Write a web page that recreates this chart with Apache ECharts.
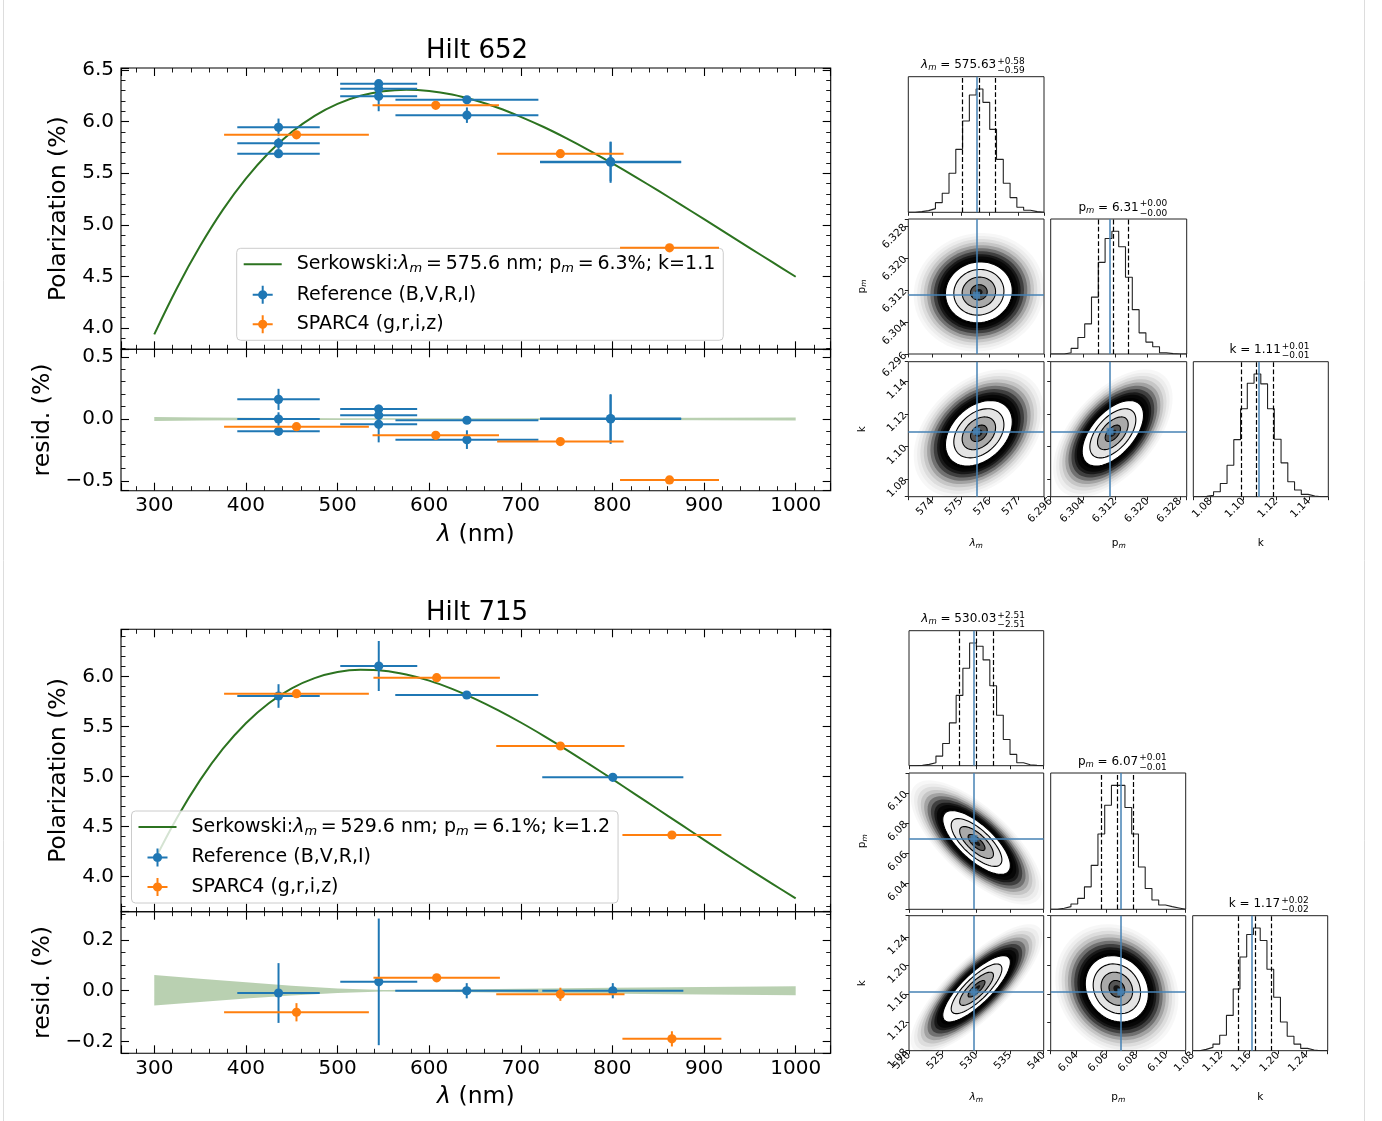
<!DOCTYPE html>
<html><head><meta charset="utf-8">
<script src="https://cdn.jsdelivr.net/npm/echarts@6/dist/echarts.min.js"></script>
<style>html,body{margin:0;padding:0;background:#fff;}#c{width:1382px;height:1121px;}</style>
</head><body><div id="c"></div>
<script>
const FONT = 'DejaVu Sans';
const BLUE = '#1f77b4', ORANGE = '#ff7f0e', GREEN = '#2c7320', TRUTH = '#4682b4';

// ---------- Serkowski model curves ----------
const lamGrid = [300,325,350,375,400,425,450,475,500,525,550,575,600,625,650,675,700,725,750,775,800,825,850,875,900,925,950,975,1000];
const serk652 = [3.939,4.391,4.794,5.147,5.447,5.698,5.900,6.057,6.173,6.251,6.295,6.310,6.298,6.263,6.207,6.135,6.047,5.948,5.838,5.720,5.595,5.465,5.331,5.194,5.055,4.915,4.775,4.636,4.497];
const serk715 = [4.159,4.592,4.966,5.280,5.535,5.735,5.884,5.986,6.047,6.069,6.060,6.022,5.961,5.878,5.779,5.666,5.542,5.409,5.269,5.123,4.975,4.824,4.672,4.520,4.369,4.219,4.071,3.926,3.784];

// ---------- Hilt 652 ----------
const ref652Lam    = [435.6,435.6,435.6,544.9,544.9,544.9,641.2,641.2,798.0,798.0];
const ref652LamErr = [45,45,45,42,42,42,78,78,77,77];
const ref652P      = [5.945,5.790,5.690,6.368,6.318,6.246,6.212,6.063,5.607,5.612];
const ref652PErr   = [0.085,0.054,0.032,0.035,0.030,0.145,0.020,0.075,0.200,0.190];
const ref652Res    = [0.158,0.000,-0.099,0.080,0.030,-0.043,-0.010,-0.166,0.000,0.004];
const sp652Lam     = [455.2,607.2,743.2,862.3];
const sp652LamErr  = [79,69,69,54];
const sp652P       = [5.872,6.158,5.690,4.777];
const sp652PErr    = [0.025,0.015,0.015,0.015];
const sp652Res     = [-0.062,-0.131,-0.182,-0.490];

// ---------- Hilt 715 ----------
const ref715Lam    = [435.6,545.0,641.0,800.4];
const ref715LamErr = [45,42,78,77];
const ref715P      = [5.807,6.107,5.817,4.994];
const ref715PErr   = [0.118,0.250,0.030,0.030];
const ref715Res    = [-0.009,0.035,0.000,0.000];
const sp715Lam     = [455.2,608.2,743.2,864.9];
const sp715LamErr  = [79,69,70,54];
const sp715P       = [5.830,5.990,5.307,4.417];
const sp715PErr    = [0.036,0.012,0.026,0.030];
const sp715Res     = [-0.085,0.051,-0.014,-0.190];

// ---------- residual model bands ----------
const bandLam  = [300,350,400,450,500,550,600,700,800,900,1000];
const band652Hi = [0.017,0.013,0.010,0.008,0.007,0.006,0.006,0.007,0.009,0.010,0.012];
const band652Lo = [-0.017,-0.013,-0.010,-0.008,-0.007,-0.006,-0.006,-0.007,-0.009,-0.010,-0.012];
const band715Hi = [0.062,0.047,0.033,0.020,0.009,0.003,0.004,0.008,0.012,0.015,0.018];
const band715Lo = [-0.058,-0.044,-0.031,-0.019,-0.009,-0.003,-0.004,-0.008,-0.012,-0.015,-0.018];

// ---------- corner plots: Hilt 652 ----------
const hist652Lam = [0,2,5,11,29,57,117,189,274,352,370,330,249,159,87,44,15,6,2,0];
const hist652P   = [0,0,4,17,50,91,172,277,349,371,324,232,134,64,36,22,4,1,0,0];
const hist652K   = [0,1,4,15,40,95,172,265,342,370,340,265,173,102,45,20,7,2,0,0];
const range652Lam = [573.16,577.91];
const range652P   = [6.296,6.3297];
const range652K   = [1.0694,1.1518];
const q652Lam = [575.04,575.63,576.21];
const q652P   = [6.3077,6.3114,6.3152];
const q652K   = [1.0985,1.1081,1.1183];
const truth652 = [575.55,6.3107,1.1093];
const cloud652LamP = [575.63,6.3114,0.585,0.0038,0.05];
const cloud652LamK = [575.63,1.1081,0.585,0.0100,0.35];
const cloud652PK   = [6.3114,1.1081,0.0038,0.0100,0.55];

// ---------- corner plots: Hilt 715 ----------
const hist715Lam = [0,1,4,9,29,67,129,212,294,370,360,319,241,152,79,34,9,3,1,0];
const hist715P   = [0,3,8,16,33,68,133,228,315,375,375,308,228,128,63,28,13,8,4,0];
const hist715K   = [0,4,10,20,47,107,187,284,352,372,334,247,162,87,44,20,7,2,0,0];
const range715Lam = [520,540];
const range715P   = [6.0226,6.1132];
const range715K   = [1.08,1.2697];
const q715Lam = [527.52,530.03,532.54];
const q715P   = [6.0568,6.0670,6.0780];
const q715K   = [1.1436,1.1672,1.1902];
const truth715 = [529.65,6.0697,1.1625];
const cloud715LamP = [530.03,6.067,2.51,0.0106,-0.72];
const cloud715LamK = [530.03,1.167,2.51,0.0233,0.80];
const cloud715PK   = [6.067,1.167,0.0106,0.0233,-0.15];

// ================= build option =================
const option = {animation:false, backgroundColor:'#fff', textStyle:{fontFamily:FONT},
  grid:[], xAxis:[], yAxis:[], series:[], title:[], legend:[], graphic:[]};

function fmtStep(step, dec){
  return function(v){
    const q = v/step;
    if (Math.abs(q-Math.round(q)) > 1e-6) return '';
    let s = (Math.round(q)*step).toFixed(dec);
    if (Number(s) === 0) s = (0).toFixed(dec);
    return s.replace('-', '\u2212');
  };
}
const noLine = {show:false, onZero:false};

function mainPanel(rect, xr, yr, ySplit, yMinor, yStep, showX, yName, yNameGap){
  const gi = option.grid.length;
  option.grid.push({left:rect[0], top:rect[1], width:rect[2], height:rect[3], show:true,
    borderColor:'#000', borderWidth:1.1, backgroundColor:'rgba(0,0,0,0)'});
  const tick = {show:true, inside:true, length:8, lineStyle:{color:'#000', width:1.1}};
  const xMinor = {show:true, splitNumber:5, length:4.5, lineStyle:{color:'#000', width:0.9}};
  const yMinorT = {show:true, splitNumber:yMinor, length:4.5, lineStyle:{color:'#000', width:0.9}};
  const lab = {color:'#000', fontFamily:FONT, fontSize:20, showMinLabel:true, showMaxLabel:true, hideOverlap:false};
  const xi = option.xAxis.length;
  option.xAxis.push({gridIndex:gi, type:'value', position:'bottom', min:xr[0], max:xr[1], splitNumber:7,
    axisLine:noLine, axisTick:tick, minorTick:xMinor, splitLine:{show:false}, minorSplitLine:{show:false},
    axisLabel:Object.assign({show:showX, margin:5, formatter:fmtStep(100,0)}, lab),
    name: showX ? '{it|λ} (nm)' : '', nameLocation:'middle', nameGap:32,
    nameTextStyle:{fontFamily:FONT, fontSize:23.5, color:'#000',
      rich:{it:{fontFamily:FONT, fontSize:23.5, fontStyle:'italic', color:'#000'}}}});
  option.xAxis.push({gridIndex:gi, type:'value', position:'top', min:xr[0], max:xr[1], splitNumber:7,
    axisLine:noLine, axisTick:tick, minorTick:xMinor, splitLine:{show:false}, axisLabel:{show:false}});
  const yi = option.yAxis.length;
  option.yAxis.push({gridIndex:gi, type:'value', position:'left', min:yr[0], max:yr[1], splitNumber:ySplit,
    axisLine:noLine, axisTick:tick, minorTick:yMinorT, splitLine:{show:false},
    axisLabel:Object.assign({margin:7, formatter:fmtStep(yStep,1)}, lab),
    name:yName, nameLocation:'middle', nameGap:yNameGap,
    nameTextStyle:{fontFamily:FONT, fontSize:23.5, color:'#000'}});
  option.yAxis.push({gridIndex:gi, type:'value', position:'right', min:yr[0], max:yr[1], splitNumber:ySplit,
    axisLine:noLine, axisTick:tick, minorTick:yMinorT, splitLine:{show:false}, axisLabel:{show:false}});
  return {xi:xi, yi:yi};
}

function errRender(params, api){
  const x = api.value(0), y = api.value(1), ex = api.value(2), ey = api.value(3);
  const c = api.coord([x,y]);
  const l = api.coord([x-ex,y]), r = api.coord([x+ex,y]);
  const t = api.coord([x,y+ey]), b = api.coord([x,y-ey]);
  const color = api.visual('color');
  return {type:'group', children:[
    {type:'line', shape:{x1:l[0],y1:l[1],x2:r[0],y2:r[1]}, style:{stroke:color, lineWidth:2}},
    {type:'line', shape:{x1:t[0],y1:t[1],x2:b[0],y2:b[1]}, style:{stroke:color, lineWidth:2}},
    {type:'circle', shape:{cx:c[0],cy:c[1],r:4.6}, style:{fill:color}}
  ]};
}
function errSeries(name, ax, lam, lamErr, val, valErr, color){
  return {type:'custom', name:name, xAxisIndex:ax.xi, yAxisIndex:ax.yi, color:color, z:4,
    itemStyle:{color:color}, renderItem:errRender, dimensions:['x','y','ex','ey'], encode:{x:0, y:1},
    data: lam.map((l,i)=>[l, val[i], lamErr[i], valErr[i]])};
}
function bandSeries(ax, lam, hi, lo){
  return {type:'custom', name:'band', xAxisIndex:ax.xi, yAxisIndex:ax.yi, z:1, silent:true,
    data: lam.map((l,i)=>[l, hi[i], lo[i]]), encode:{x:0, y:1},
    renderItem: function(params, api){
      if (params.dataIndex !== 0) return null;
      const pts = [];
      for (let i=0;i<lam.length;i++) pts.push(api.coord([lam[i], hi[i]]));
      for (let i=lam.length-1;i>=0;i--) pts.push(api.coord([lam[i], lo[i]]));
      return {type:'polygon', shape:{points:pts}, style:{fill:'rgba(60,125,40,0.36)'}};
    }};
}

function addStar(cfg){
  const m = mainPanel(cfg.mainRect, [263.7,1038.2], cfg.mainY, 5, 5, 0.5, false, 'Polarization (%)', 40);
  const r = mainPanel(cfg.resRect, [263.7,1038.2], cfg.resY, cfg.resSplit, cfg.resMinor, cfg.resStep, true, 'resid. (%)', 58);
  option.series.push({type:'line', name:cfg.serkName, xAxisIndex:m.xi, yAxisIndex:m.yi, color:GREEN,
    data: lamGrid.map((l,i)=>[l, cfg.serk[i]]), symbol:'none', showSymbol:false, smooth:0.4,
    lineStyle:{color:GREEN, width:2}, z:2});
  option.series.push(errSeries('Reference (B,V,R,I)', m, cfg.refLam, cfg.refLamErr, cfg.refP, cfg.refPErr, BLUE));
  option.series.push(errSeries('SPARC4 (g,r,i,z)', m, cfg.spLam, cfg.spLamErr, cfg.spP, cfg.spPErr, ORANGE));
  option.series.push(bandSeries(r, bandLam, cfg.bandHi, cfg.bandLo));
  option.series.push(errSeries('Reference (B,V,R,I)', r, cfg.refLam, cfg.refLamErr, cfg.refRes, cfg.refPErr, BLUE));
  option.series.push(errSeries('SPARC4 (g,r,i,z)', r, cfg.spLam, cfg.spLamErr, cfg.spRes, cfg.spPErr, ORANGE));
  option.title.push({text:cfg.title, left:472, top:cfg.titleTop, textAlign:'center',
    textStyle:{fontFamily:FONT, fontSize:26, fontWeight:'normal', color:'#000'}});
  const spk = 'M0,0h0.01v0.01h-0.01z M47.99,19.99h0.01v0.01h-0.01z ';
  const lineIcon = 'path://' + spk + 'M0,9H38V11H0z';
  const errIcon = 'path://' + spk + 'M9,9H29V11H9z M18,1H20V19H18z M19,5.4A4.6,4.6 0 1,1 19,14.6A4.6,4.6 0 1,1 19,5.4z';
  const labels = {};
  labels[cfg.serkName] = cfg.serkLabel;
  option.legend.push({orient:'vertical', left:cfg.legendPos[0], top:cfg.legendPos[1], padding:[6,8,6,7],
    itemWidth:48, itemHeight:20, itemGap:9.5, selectedMode:false,
    backgroundColor:'rgba(255,255,255,0.8)', borderColor:'#cccccc', borderWidth:1, borderRadius:4,
    data:[{name:cfg.serkName, icon:lineIcon}, {name:'Reference (B,V,R,I)', icon:errIcon}, {name:'SPARC4 (g,r,i,z)', icon:errIcon}],
    formatter: n => labels[n] || ('{t|' + n + '}'),
    textStyle:{fontFamily:FONT, fontSize:19, color:'#000', rich:{
      t:{fontFamily:FONT, fontSize:19, color:'#000', lineHeight:22, verticalAlign:'middle'},
      it:{fontFamily:FONT, fontSize:19, fontStyle:'italic', color:'#000', lineHeight:22, verticalAlign:'middle'},
      s:{fontFamily:FONT, fontSize:13, fontStyle:'italic', color:'#000', lineHeight:13, verticalAlign:'bottom'}}}});
}

addStar({title:'Hilt 652', titleTop:33, mainRect:[121,68,709.7,281.3], resRect:[121,349.3,709.7,141.4],
  mainY:[3.794,6.52], resY:[-0.577,0.561], resSplit:2, resMinor:5, resStep:0.5,
  serk:serk652, serkName:'Serkowski 652',
  serkLabel:'{t|Serkowski:}{it|λ}{s|m}{t|\u2009=\u2009575.6 nm; p}{s|m}{t|\u2009=\u20096.3%; k=1.1}',
  refLam:ref652Lam, refLamErr:ref652LamErr, refP:ref652P, refPErr:ref652PErr, refRes:ref652Res,
  spLam:sp652Lam, spLamErr:sp652LamErr, spP:sp652P, spPErr:sp652PErr, spRes:sp652Res,
  bandHi:band652Hi, bandLo:band652Lo, legendPos:[236.7,248.3]});

addStar({title:'Hilt 715', titleTop:595, mainRect:[121,629.3,709.7,282.4], resRect:[121,911.7,709.7,141.6],
  mainY:[3.65,6.474], resY:[-0.247,0.312], resSplit:3, resMinor:4, resStep:0.2,
  serk:serk715, serkName:'Serkowski 715',
  serkLabel:'{t|Serkowski:}{it|λ}{s|m}{t|\u2009=\u2009529.6 nm; p}{s|m}{t|\u2009=\u20096.1%; k=1.2}',
  refLam:ref715Lam, refLamErr:ref715LamErr, refP:ref715P, refPErr:ref715PErr, refRes:ref715Res,
  spLam:sp715Lam, spLamErr:sp715LamErr, spP:sp715P, spPErr:sp715PErr, spRes:sp715Res,
  bandHi:band715Hi, bandLo:band715Lo, legendPos:[131.5,811]});

// ================= corner plots =================
const haloR   = [3.9, 3.7, 3.5, 3.3, 3.1, 2.9, 2.7, 2.5, 2.35, 2.15];
const haloOp  = [0.03,0.07,0.13,0.22,0.36,0.55,0.75,0.90,0.97,1.0];
const innerLevels = [
  {r:2.0, fill:'#ffffff'}, {r:1.5, fill:'#e4e4e4'}, {r:1.0, fill:'#a9a9a9'}, {r:0.5, fill:'#555555'}
];

function cloudRender(params, api){
  const cx = api.value(0), cy = api.value(1), sx = api.value(2), sy = api.value(3), rho = api.value(4);
  const q = Math.sqrt(1 - rho*rho);
  function ell(r){
    const pts = [];
    for (let i=0;i<72;i++){
      const t = i/72*Math.PI*2, u = Math.cos(t), v = Math.sin(t);
      pts.push(api.coord([cx + r*sx*u, cy + r*sy*(rho*u + q*v)]));
    }
    return pts;
  }
  const children = [];
  let prev = 0;
  for (let k=0;k<haloR.length;k++){
    const a = 1 - (1 - haloOp[k]) / (1 - prev);
    prev = haloOp[k] >= 1 ? 0.999999 : haloOp[k];
    children.push({type:'polygon', shape:{points:ell(haloR[k])}, style:{fill:'rgba(0,0,0,' + Math.min(1,Math.max(0,a)).toFixed(3) + ')'}});
  }
  innerLevels.forEach(L => children.push({type:'polygon', shape:{points:ell(L.r)}, style:{fill:L.fill, stroke:'#000', lineWidth:1.1}}));
  children.push({type:'polygon', shape:{points:ell(0.22)}, style:{fill:'#151515'}});
  const cs = params.coordSys;
  return {type:'group', clipPath:{type:'rect', shape:{x:cs.x, y:cs.y, width:cs.width, height:cs.height}}, children:children};
}

const cornerLab = {color:'#000', fontFamily:FONT, fontSize:10.5, rotate:45, margin:3, showMinLabel:true, showMaxLabel:true, hideOverlap:false};
const cornerTick = {show:true, inside:false, length:3.5, lineStyle:{color:'#222', width:1}};
const richSmall = {
  it:{fontFamily:FONT, fontSize:10.5, fontStyle:'italic', color:'#000', lineHeight:13, verticalAlign:'middle'},
  t:{fontFamily:FONT, fontSize:10.5, color:'#000', lineHeight:13, verticalAlign:'middle'},
  s:{fontFamily:FONT, fontSize:7.5, fontStyle:'italic', color:'#000', lineHeight:8, verticalAlign:'bottom'}};
const cornerNameStyle = {fontFamily:FONT, fontSize:10.5, color:'#000', rich:richSmall};
const richTitle = {
  it:{fontFamily:FONT, fontSize:12, fontStyle:'italic', fill:'#000', lineHeight:15, verticalAlign:'middle'},
  t:{fontFamily:FONT, fontSize:12, fill:'#000', lineHeight:15, verticalAlign:'middle'},
  s:{fontFamily:FONT, fontSize:8.5, fontStyle:'italic', fill:'#000', lineHeight:9, verticalAlign:'bottom'}};

function valAxis(isX, gi, v, showLabel, name){
  const ax = {gridIndex:gi, type:'value', min:v.range[0], max:v.range[1], axisLine:noLine,
    splitLine:{show:false}, axisTick:cornerTick,
    axisLabel:Object.assign({show:showLabel, formatter:fmtStep(v.step, v.dec)}, cornerLab)};
  if (v.interval) ax.interval = v.interval; else ax.splitNumber = v.split;
  if (name){ ax.name = name; ax.nameLocation = 'middle'; ax.nameGap = 40; ax.nameTextStyle = cornerNameStyle; }
  if (isX){ option.xAxis.push(ax); return option.xAxis.length-1; }
  option.yAxis.push(ax); return option.yAxis.length-1;
}

function corner(c){
  const names = ['{it|λ}{s|m}', '{t|p}{s|m}', '{t|k}'];
  const cloudIdx = {'1,0':0, '2,0':1, '2,1':2};
  for (let i=0;i<3;i++){
    for (let j=0;j<=i;j++){
      const gi = option.grid.length;
      option.grid.push({left:c.cols[j][0], width:c.cols[j][1], top:c.rows[i][0], height:c.rows[i][1],
        show:true, borderColor:'#222', borderWidth:1, backgroundColor:'rgba(0,0,0,0)'});
      if (i === j){
        const xi = valAxis(true, gi, c.vars[i], i===2, i===2 ? names[i] : null);
        const h = c.hists[i];
        const yi = option.yAxis.length;
        option.yAxis.push({gridIndex:gi, type:'value', min:0, max:Math.max.apply(null,h)*1.1,
          axisLine:noLine, axisTick:{show:false}, axisLabel:{show:false}, splitLine:{show:false}});
        const r0 = c.vars[i].range[0], r1 = c.vars[i].range[1], w = (r1-r0)/h.length;
        const data = h.map((cnt,k)=>[r0 + k*w, cnt]);
        data.push([r1, h[h.length-1]]);
        const ml = c.quants[i].map(q => ({xAxis:q, lineStyle:{type:'dashed', color:'#000', width:1.2}}));
        ml.push({xAxis:c.truth[i], lineStyle:{type:'solid', color:TRUTH, width:1.5}});
        option.series.push({type:'line', xAxisIndex:xi, yAxisIndex:yi, step:'end', data:data, symbol:'none',
          lineStyle:{color:'#222', width:1.1}, silent:true,
          markLine:{silent:true, precision:6, symbol:['none','none'], label:{show:false}, data:ml}});
        const cx = c.cols[j][0] + c.cols[j][1]/2, ty = c.rows[i][0];
        const T = c.titles[i];
        option.graphic.push({type:'text', x:cx+20, y:ty-11.5, silent:true, style:{text:T[0], align:'right', verticalAlign:'middle',
          fontFamily:FONT, fontSize:12, fill:'#000', rich:richTitle}});
        option.graphic.push({type:'text', x:cx+21, y:ty-10.5, silent:true, style:{text:T[1] + '\n' + T[2], align:'left', verticalAlign:'middle',
          fontFamily:FONT, fontSize:9, lineHeight:9.5, fill:'#000'}});
      } else {
        const xi = valAxis(true, gi, c.vars[j], i===2, i===2 ? names[j] : null);
        const yi = valAxis(false, gi, c.vars[i], j===0, j===0 ? names[i] : null);
        const cl = c.clouds[cloudIdx[i+','+j]];
        option.series.push({type:'custom', xAxisIndex:xi, yAxisIndex:yi, silent:true, renderItem:cloudRender,
          dimensions:['cx','cy','sx','sy','rho'], encode:{x:0, y:1}, data:[cl], z:2});
        option.series.push({type:'scatter', xAxisIndex:xi, yAxisIndex:yi, silent:true, z:5,
          data:[[c.truth[j], c.truth[i]]], symbol:'rect', symbolSize:7, itemStyle:{color:TRUTH},
          markLine:{silent:true, precision:6, symbol:['none','none'], label:{show:false}, lineStyle:{type:'solid', color:TRUTH, width:1.5},
            data:[{xAxis:c.truth[j]}, {yAxis:c.truth[i]}]}});
      }
    }
  }
}

corner({
  cols:[[908.3,135.7],[1050.7,136],[1193.3,135]], rows:[[76.7,135.6],[219,135],[361.7,135]],
  vars:[{range:range652Lam, split:4, step:1, dec:0}, {range:range652P, interval:0.008, step:0.008, dec:3}, {range:range652K, split:4, step:0.02, dec:2}],
  hists:[hist652Lam, hist652P, hist652K], quants:[q652Lam, q652P, q652K], truth:truth652,
  clouds:[cloud652LamP, cloud652LamK, cloud652PK],
  titles:[['{it|λ}{s|m}{t| = 575.63}','+0.58','\u22120.59'], ['{t|p}{s|m}{t| = 6.31}','+0.00','\u22120.00'], ['{t|k = 1.11}','+0.01','\u22120.01']]
});
corner({
  cols:[[909,134.7],[1050.7,135],[1192.7,135]], rows:[[630.7,135],[773,136.3],[915.7,135]],
  vars:[{range:range715Lam, interval:5, step:5, dec:0}, {range:range715P, split:4, step:0.02, dec:2}, {range:range715K, interval:0.04, step:0.04, dec:2}],
  hists:[hist715Lam, hist715P, hist715K], quants:[q715Lam, q715P, q715K], truth:truth715,
  clouds:[cloud715LamP, cloud715LamK, cloud715PK],
  titles:[['{it|λ}{s|m}{t| = 530.03}','+2.51','\u22122.51'], ['{t|p}{s|m}{t| = 6.07}','+0.01','\u22120.01'], ['{t|k = 1.17}','+0.02','\u22120.02']]
});

// page frame lines
option.graphic.push({type:'line', silent:true, shape:{x1:3.5,y1:0,x2:3.5,y2:1121}, style:{stroke:'#dddddd', lineWidth:1}});
option.graphic.push({type:'line', silent:true, shape:{x1:1364.5,y1:0,x2:1364.5,y2:1121}, style:{stroke:'#dddddd', lineWidth:1}});

const chart = echarts.init(document.getElementById('c'), null, {renderer:'canvas'});
chart.setOption(option);
</script></body></html>
